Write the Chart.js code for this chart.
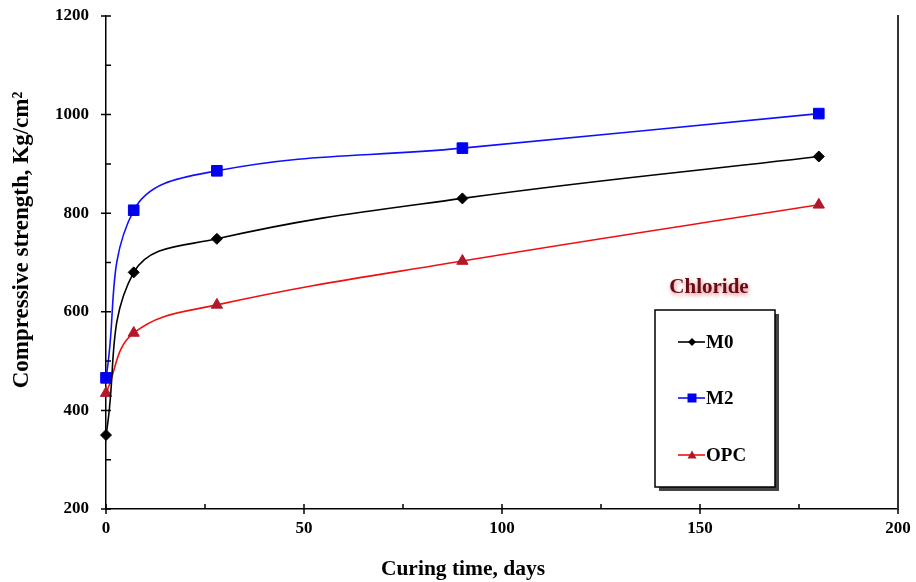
<!DOCTYPE html>
<html>
<head>
<meta charset="utf-8">
<script src="https://cdn.jsdelivr.net/npm/chart.js@4.4.1/dist/chart.umd.min.js"></script>
<style>
  body { margin: 0; background: #fff; }
  #wrap { width: 916px; height: 582px; }
</style>
</head>
<body>
<div id="wrap"><canvas id="strengthChart" width="916" height="582"></canvas></div>
<script>
// Curing ages and compressive strength per mix
const curingDays = [0, 7, 28, 90, 180];
const strengthM0 = [350, 680, 748, 830, 915];
const strengthM2 = [466, 806, 886, 932, 1002];
const strengthOPC = [435, 557, 614, 703, 817];

const seriesNames = ["M0", "M2", "OPC"];
const legendTitle = "Chloride";
const xTitle = "Curing time, days";
const yTitle = "Compressive strength, Kg/cm\u00B2";

const serif = "'Liberation Serif', 'DejaVu Serif', serif";

function toPoints(values) {
  return curingDays.map((d, i) => ({ x: d, y: values[i] }));
}

const styles = [
  { line: "#000000", fill: "#000000", shape: "rectRot", radius: 5.5 },
  { line: "#1010ff", fill: "#0000ee", shape: "rect", radius: 7.5 },
  { line: "#ee1111", fill: "#b3182a", shape: "triangle", radius: 6.5 },
];

const datasets = [strengthM0, strengthM2, strengthOPC].map((vals, i) => ({
  label: seriesNames[i],
  data: toPoints(vals),
  borderColor: styles[i].line,
  borderWidth: 1.6,
  backgroundColor: styles[i].fill,
  pointBackgroundColor: styles[i].fill,
  pointBorderColor: styles[i].fill,
  pointBorderWidth: 1,
  pointStyle: styles[i].shape,
  pointRadius: styles[i].radius,
  tension: 0.4,
  clip: false,
}));

// tick marks that cross the axis (major) or sit inside (minor), plus right frame line
const axisMarks = {
  id: "axisMarks",
  afterDraw(chart) {
    const { ctx, chartArea, scales } = chart;
    ctx.save();
    ctx.strokeStyle = "#000";
    ctx.lineWidth = 1.5;
    ctx.beginPath();
    for (let v = 200; v <= 1200; v += 100) {
      const y = scales.y.getPixelForValue(v);
      const major = v % 200 === 0;
      ctx.moveTo(chartArea.left - (major ? 5 : 0), y);
      ctx.lineTo(chartArea.left + 5, y);
    }
    for (let v = 0; v <= 200; v += 25) {
      const x = scales.x.getPixelForValue(v);
      const major = v % 50 === 0;
      ctx.moveTo(x, chartArea.bottom + (major ? 5 : 0));
      ctx.lineTo(x, chartArea.bottom - 5);
    }
    ctx.stroke();

    ctx.strokeStyle = "#333";
    ctx.lineWidth = 2;
    ctx.beginPath();
    ctx.moveTo(chartArea.right, chartArea.top - 1);
    ctx.lineTo(chartArea.right, chartArea.bottom);
    ctx.stroke();

    // axis titles
    ctx.fillStyle = "#000";
    ctx.textAlign = "center";
    ctx.textBaseline = "middle";
    ctx.font = "bold 21.5px " + serif;
    ctx.fillText(xTitle, 463, 569);
    ctx.font = "bold 23px " + serif;
    ctx.translate(22, 240);
    ctx.rotate(-Math.PI / 2);
    ctx.fillText(yTitle, 0, 0);
    ctx.restore();
  },
};

function drawMarker(ctx, shape, x, y, r) {
  ctx.beginPath();
  if (shape === "rectRot") {
    ctx.moveTo(x, y - r);
    ctx.lineTo(x + r, y);
    ctx.lineTo(x, y + r);
    ctx.lineTo(x - r, y);
  } else if (shape === "rect") {
    ctx.rect(x - r, y - r, 2 * r, 2 * r);
  } else {
    ctx.moveTo(x, y - r);
    ctx.lineTo(x + r, y + r * 0.8);
    ctx.lineTo(x - r, y + r * 0.8);
  }
  ctx.closePath();
  ctx.fill();
}

// boxed legend with shadow and a titled heading
const boxLegend = {
  id: "boxLegend",
  afterDraw(chart) {
    const { ctx } = chart;
    const box = { x: 655, y: 310, w: 120, h: 177 };
    ctx.save();
    ctx.fillStyle = "#444";
    ctx.fillRect(box.x + 4, box.y + 4, box.w, box.h);
    ctx.fillStyle = "#fff";
    ctx.fillRect(box.x, box.y, box.w, box.h);
    ctx.strokeStyle = "#000";
    ctx.lineWidth = 1.5;
    ctx.strokeRect(box.x, box.y, box.w, box.h);

    ctx.font = "bold 21px " + serif;
    ctx.textAlign = "center";
    ctx.textBaseline = "middle";
    ctx.shadowColor = "rgba(190,40,40,0.6)";
    ctx.shadowBlur = 4;
    ctx.shadowOffsetX = 1;
    ctx.shadowOffsetY = 2;
    ctx.fillStyle = "#6a0a14";
    ctx.fillText(legendTitle, 709, 288);
    ctx.shadowColor = "transparent";

    const rows = [342, 398, 455];
    ctx.font = "bold 19px " + serif;
    ctx.textAlign = "left";
    seriesNames.forEach((name, i) => {
      const y = rows[i];
      ctx.strokeStyle = styles[i].line;
      ctx.lineWidth = 1.6;
      ctx.beginPath();
      ctx.moveTo(678, y);
      ctx.lineTo(705, y);
      ctx.stroke();
      ctx.fillStyle = styles[i].fill;
      drawMarker(ctx, styles[i].shape, 692, y, i === 0 ? 4 : 4.5);
      ctx.fillStyle = "#000";
      ctx.fillText(name, 706, y + 1);
    });
    ctx.restore();
  },
};

const tickFont = { family: serif, size: 17, weight: "bold" };

new Chart(document.getElementById("strengthChart"), {
  type: "line",
  data: { datasets },
  options: {
    responsive: false,
    animation: false,
    layout: { padding: { top: 16, right: 18, left: 0, bottom: 0 } },
    plugins: {
      legend: { display: false },
      tooltip: { enabled: false },
    },
    scales: {
      x: {
        type: "linear",
        min: 0,
        max: 200,
        grid: { display: false, drawTicks: false },
        border: { display: true, color: "#000", width: 1.5 },
        ticks: {
          stepSize: 25,
          autoSkip: false,
          maxRotation: 0,
          padding: 9,
          color: "#000",
          font: tickFont,
          callback: (v) => (v % 50 === 0 ? v : ""),
        },
        afterFit: (s) => {
          s.height = 73;
          s.paddingLeft = 0;
          s.paddingRight = 0;
        },
      },
      y: {
        min: 200,
        max: 1200,
        grid: { display: false, drawTicks: false },
        border: { display: true, color: "#000", width: 1.5 },
        ticks: {
          stepSize: 100,
          autoSkip: false,
          padding: 17,
          color: "#000",
          font: tickFont,
          callback: (v) => (v % 200 === 0 ? v : ""),
        },
        afterFit: (s) => {
          s.width = 106;
          s.paddingTop = 0;
          s.paddingBottom = 0;
        },
      },
    },
  },
  plugins: [axisMarks, boxLegend],
});
</script>
</body>
</html>
